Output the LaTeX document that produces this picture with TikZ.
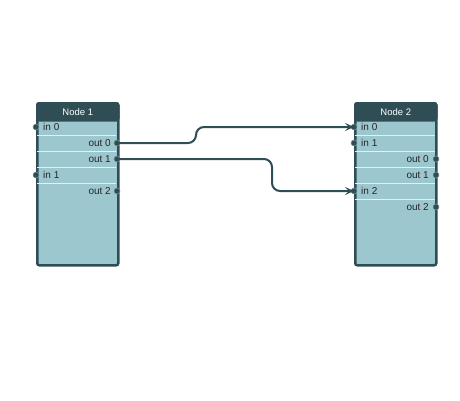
\documentclass[tikz,border=0pt]{standalone}
\usepackage{fontspec}
\setmainfont{Liberation Sans}
\usetikzlibrary{arrows.meta}
\definecolor{nodedark}{HTML}{2F4D55}
\definecolor{nodebody}{HTML}{9DC7CE}
\definecolor{rowline}{HTML}{E2F0F2}
\begin{document}
\begin{tikzpicture}[
	x=1pt, y=-1pt,
	box/.style={
		rectangle,
		draw=nodedark,
		line width=2.5pt,
		rounded corners=2pt,
		fill=nodebody,
		anchor=north west,
		inner sep=0pt,
		minimum height=162pt,
		minimum width=81pt
	},
	header/.style={
		rectangle,
		draw=nodedark,
		line width=2.5pt,
		rounded corners=2pt,
		fill=nodedark,
		anchor=north,
		inner sep=0pt,
		text=white,
		font=\fontsize{9.5}{11}\selectfont,
		minimum height=17pt,
		minimum width=81pt
	},
	inlabel/.style={
		anchor=west,
		inner sep=0pt,
		text=black!85,
		font=\fontsize{10}{11}\selectfont
	},
	outlabel/.style={
		anchor=east,
		inner sep=0pt,
		text=black!85,
		font=\fontsize{10}{11}\selectfont
	},
	port/.style={
		circle,
		fill=nodedark,
		draw=nodedark!60,
		line width=0.5pt,
		inner sep=0pt,
		minimum size=6pt
	},
	sep/.style={
		draw=rowline,
		line width=0.9pt
	},
	link/.style={
		draw=nodedark,
		line width=2pt,
		rounded corners=8pt,
		-{Stealth[length=9pt,width=8pt,inset=4pt]}
	},
]
\useasboundingbox (0,0) rectangle (460,400);

% Node 1
\node[box] (node1) at (36,102) {};
\node[header] (head1) at (node1.north) {Node 1};
\draw[sep] (37,135) -- (116,135);
\draw[sep] (37,151) -- (116,151);
\draw[sep] (37,167) -- (116,167);
\draw[sep] (37,183) -- (116,183);

\node[inlabel] (n1l0) at (43,127) {in 0};
\node[outlabel] (n1l1) at (111,143) {out 0};
\node[outlabel] (n1l2) at (111,159) {out 1};
\node[inlabel] (n1l3) at (43,175) {in 1};
\node[outlabel] (n1l4) at (111,191) {out 2};

\node[port] (n1i0) at (36,127) {};
\node[port] (n1o0) at (117,143) {};
\node[port] (n1o1) at (117,159) {};
\node[port] (n1i1) at (36,175) {};
\node[port] (n1o2) at (117,191) {};

% Node 2
\node[box] (node2) at (354,102) {};
\node[header] (head2) at (node2.north) {Node 2};
\draw[sep] (355,135) -- (435,135);
\draw[sep] (355,151) -- (435,151);
\draw[sep] (355,167) -- (435,167);
\draw[sep] (355,183) -- (435,183);
\draw[sep] (355,199) -- (435,199);

\node[inlabel] (n2l0) at (361,127) {in 0};
\node[inlabel] (n2l1) at (361,143) {in 1};
\node[outlabel] (n2l2) at (429,159) {out 0};
\node[outlabel] (n2l3) at (429,175) {out 1};
\node[inlabel] (n2l4) at (361,191) {in 2};
\node[outlabel] (n2l5) at (429,207) {out 2};

\node[port] (n2i0) at (354,127) {};
\node[port] (n2i1) at (354,143) {};
\node[port] (n2o0) at (436,159) {};
\node[port] (n2o1) at (436,175) {};
\node[port] (n2i2) at (354,191) {};
\node[port] (n2o2) at (436,207) {};

% Links
\coordinate (step1) at (196,0);
\coordinate (step2) at (272,0);
\draw[link] (n1o0.center) -- (n1o0 -| step1) -- (n2i0 -| step1) -- (n2i0.center);
\draw[link] (n1o1.center) -- (n1o1 -| step2) -- (n2i2 -| step2) -- (n2i2.center);

\end{tikzpicture}
\end{document}
